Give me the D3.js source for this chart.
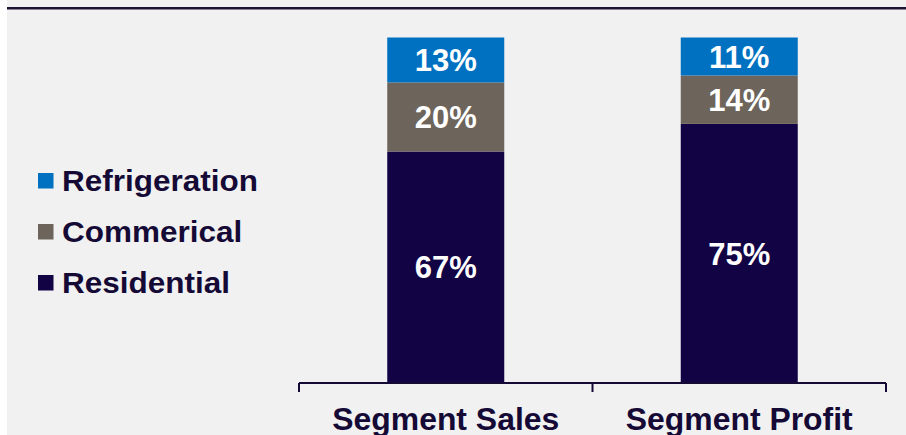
<!DOCTYPE html>
<html>
<head>
<meta charset="utf-8">
<script src="https://cdn.jsdelivr.net/npm/d3@7"></script>
<style>
  html, body { margin: 0; padding: 0; background: #fff; }
  svg { display: block; font-family: "Liberation Sans", Arial, sans-serif; }
</style>
</head>
<body>
<div id="container"></div>
<script>
const width = 906;
const height = 435;

const categories = ["Segment Sales", "Segment Profit"];
const seriesNames = ["Residential", "Commerical", "Refrigeration"];
const residential = [67, 75];
const commercial = [20, 14];
const refrigeration = [13, 11];
const colors = ["#120345", "#6d645b", "#0071c1"];
const textColor = "#150a36";

const rows = categories.map((c, i) => ({
    cat: c,
    Residential: residential[i],
    Commerical: commercial[i],
    Refrigeration: refrigeration[i]
}));

const svg = d3.select("#container").append("svg")
    .attr("width", width)
    .attr("height", height);

// panel background and top rule
svg.append("rect")
    .attr("x", 7).attr("y", 0)
    .attr("width", width - 7).attr("height", height)
    .attr("fill", "#f1f1f1");
svg.append("rect")
    .attr("x", 7).attr("y", 7)
    .attr("width", width - 7).attr("height", 2.5)
    .attr("fill", "#1d1333");

const x = d3.scaleBand()
    .domain(categories)
    .range([299, 886]);

const y = d3.scaleLinear()
    .domain([0, 100])
    .range([383, 37.5]);

const barW = 117;

const stacked = d3.stack().keys(seriesNames)(rows);

const layers = svg.selectAll("g.layer")
    .data(stacked)
    .enter()
    .append("g")
    .attr("class", "layer")
    .attr("fill", (d, i) => colors[i]);

layers.selectAll("rect")
    .data(d => d)
    .enter()
    .append("rect")
    .attr("x", d => x(d.data.cat) + x.bandwidth() / 2 - barW / 2)
    .attr("y", d => y(d[1]))
    .attr("width", barW)
    .attr("height", d => y(d[0]) - y(d[1]));

layers.selectAll("text")
    .data((d, i) => d.map(v => ({ v: v, key: seriesNames[i] })))
    .enter()
    .append("text")
    .attr("x", d => x(d.v.data.cat) + x.bandwidth() / 2)
    .attr("y", d => (y(d.v[0]) + y(d.v[1])) / 2)
    .attr("dy", "0.36em")
    .attr("text-anchor", "middle")
    .attr("fill", "#fff")
    .attr("font-weight", "bold")
    .attr("font-size", 31)
    .text(d => d.v.data[d.key] + "%");

// axis: baseline with ticks at band edges
const edges = [x.range()[0]].concat(categories.map(c => x(c) + x.bandwidth()));
const base = y(0);
svg.append("line")
    .attr("x1", edges[0]).attr("x2", edges[edges.length - 1])
    .attr("y1", base).attr("y2", base)
    .attr("stroke", textColor).attr("stroke-width", 2);
svg.selectAll("line.tick")
    .data(edges)
    .enter()
    .append("line")
    .attr("class", "tick")
    .attr("x1", d => d).attr("x2", d => d)
    .attr("y1", base).attr("y2", base + 9)
    .attr("stroke", textColor).attr("stroke-width", 2);

svg.selectAll("text.cat")
    .data(categories)
    .enter()
    .append("text")
    .attr("class", "cat")
    .attr("transform", d => `translate(${x(d) + x.bandwidth() / 2},430) scale(1.03,1)`)
    .attr("text-anchor", "middle")
    .attr("fill", textColor)
    .attr("font-weight", "bold")
    .attr("font-size", 31)
    .text(d => d);

// legend, top to bottom: Refrigeration, Commerical, Residential
const legendItems = seriesNames.map((s, i) => ({ name: s, color: colors[i] })).reverse();
const legend = svg.selectAll("g.legend")
    .data(legendItems)
    .enter()
    .append("g")
    .attr("class", "legend")
    .attr("transform", (d, i) => `translate(38,${173 + i * 51})`);

legend.append("rect")
    .attr("width", 15.5).attr("height", 15.5)
    .attr("fill", d => d.color);

legend.append("text")
    .attr("transform", "translate(24,18) scale(1.05,1)")
    .attr("fill", textColor)
    .attr("font-weight", "bold")
    .attr("font-size", 30)
    .text(d => d.name);
</script>
</body>
</html>
